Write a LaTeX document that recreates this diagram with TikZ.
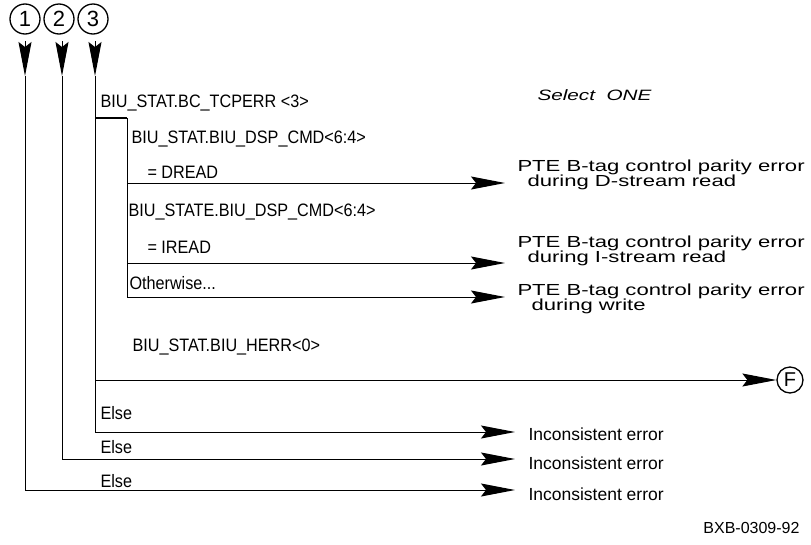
\documentclass[tikz,border=0pt]{standalone}
\usepackage{fontspec}
\setmainfont{Liberation Sans}
\newfontfamily\narrowfont[FakeStretch=0.9]{Liberation Sans}
\newfontfamily\widefont[FakeStretch=1.38]{Liberation Sans}
\usetikzlibrary{arrows.meta,calc}

\begin{document}
\begin{tikzpicture}[x=1pt,y=-1pt,line width=1pt,
  lbl/.style={anchor=west,inner sep=0pt,font=\narrowfont\fontsize{18}{20}\selectfont},
  res/.style={anchor=west,inner sep=0pt,align=left,font=\widefont\fontsize{16}{15}\selectfont},
  inc/.style={anchor=west,inner sep=0pt,font=\fontsize{17.5}{20}\selectfont},
  num/.style={circle,draw,line width=1.3pt,inner sep=0pt,minimum size=30pt,font=\fontsize{22}{22}\selectfont},
  tip/.style={-{Stealth[length=34pt,width=13pt,inset=5pt]}}]
\useasboundingbox (0,0) rectangle (811,544);

% Define the entry circles and the three stems.
\node[num] (n1) at (25,19) {1};
\node[num] (n2) at (59,19) {2};
\node[num] (n3) at (93,19) {3};

\coordinate (a1) at (25,41);  \coordinate (t1) at (25,76);
\coordinate (a2) at (62,41);  \coordinate (t2) at (62,76);
\coordinate (a3) at (95,41);  \coordinate (t3) at (95,76);

\coordinate (b1) at (25,490); \coordinate (e1) at (515,490);
\coordinate (b2) at (62,459); \coordinate (e2) at (515,459);
\coordinate (b3) at (95,432); \coordinate (e3) at (515,432);

% Define the inner branch.
\coordinate (k0) at (95,118);
\coordinate (k1) at (127,118);
\coordinate (d0) at (127,183); \coordinate (d1) at (505,183);
\coordinate (i0) at (127,263); \coordinate (i1) at (505,263);
\coordinate (w0) at (127,297); \coordinate (w1) at (505,297);
\coordinate (h0) at (95,380);

\node[num,minimum size=26pt,font=\fontsize{20}{20}\selectfont] (F) at (790,380) {F};

\draw[tip] (a1) -- (t1);
\draw[tip] (a2) -- (t2);
\draw[tip] (a3) -- (t3);

\draw[tip] (t1) -- (b1) -- (e1);
\draw[tip] (t2) -- (b2) -- (e2);
\draw[tip] (t3) -- (b3) -- (e3);

\draw[line width=2pt] (k0) -- (k1);
\draw (k1) -- (w0);
\draw[tip] (d0) -- (d1);
\draw[tip] (i0) -- (i1);
\draw[tip] (w0) -- (w1);
\draw[tip] (h0) -- (F.west);

\node[lbl] (tcperr) at (100,103) {BIU\_STAT.BC\_TCPERR <3>};
\node[lbl] (cmd1) at (131,139) {BIU\_STAT.BIU\_DSP\_CMD<6:4>};
\node[lbl] (dread) at (147,172) {= DREAD};
\node[lbl] (cmd2) at (128,212) {BIU\_STATE.BIU\_DSP\_CMD<6:4>};
\node[lbl] (iread) at (147,247) {= IREAD};
\node[lbl] (other) at (129,283) {Otherwise...};
\node[lbl] (herr) at (132,347) {BIU\_STAT.BIU\_HERR<0>};

\node[lbl] (else3) at (100,413) {Else};
\node[lbl] (else2) at (100,447) {Else};
\node[lbl] (else1) at (100,481) {Else};

\node[res,font=\widefont\itshape\fontsize{15}{15}\selectfont] (sel) at (537,95) {Select\ \ ONE};
\node[res] (pd) at (517,175) {PTE B-tag control parity error\\\hspace*{10pt}during D-stream read};
\node[res] (pi) at (517,251) {PTE B-tag control parity error\\\hspace*{10pt}during I-stream read};
\node[res] (pw) at (517,299) {PTE B-tag control parity error\\\hspace*{14pt}during write};

\node[inc] (inc3) at (528,434) {Inconsistent error};
\node[inc] (inc2) at (528,463) {Inconsistent error};
\node[inc] (inc1) at (528,494) {Inconsistent error};

\node[inc,anchor=east,font=\fontsize{16}{18}\selectfont] (fig) at (800,528) {BXB-0309-92};

\end{tikzpicture}
\end{document}
